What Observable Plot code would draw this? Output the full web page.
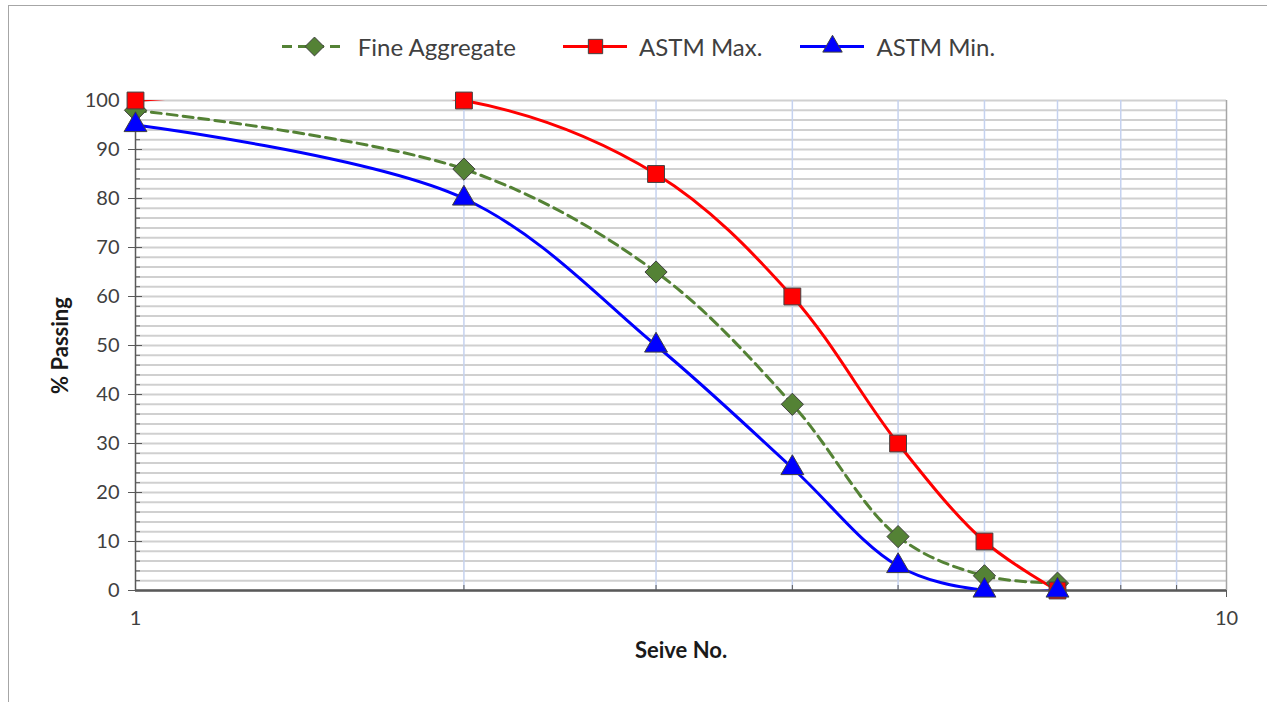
<!DOCTYPE html>
<html>
<head>
<meta charset="utf-8">
<script src="https://cdn.jsdelivr.net/npm/d3@7"></script>
<script src="https://cdn.jsdelivr.net/npm/@observablehq/plot@0.6"></script>
<style>
  html, body { margin: 0; padding: 0; background: #fff; }
  #wrap { position: relative; width: 1267px; height: 702px; overflow: hidden; font-family: Lato, "Open Sans", sans-serif; }
  #border { position: absolute; left: 8px; top: 5px; width: 1262px; height: 710px; border: 1.5px solid #a6a6a6; box-sizing: border-box; }
  #legend { position: absolute; top: 28px; left: 0; width: 1267px; height: 36px; display: flex; justify-content: center; align-items: center; font-size: 24px; color: #404040; padding-left: 10px; box-sizing: border-box; }
  .item { display: flex; align-items: center; margin: 0 19px; }
  .item:nth-child(2) { margin-left: 28px; }
  .item svg { margin-right: 12px; }
  #chart { position: absolute; left: 0; top: 70px; }
</style>
</head>
<body>
<div id="wrap">
  <div id="border"></div>
  <div id="legend"></div>
  <div id="chart"></div>
</div>
<script>
const sieves = [1, 2, 3, 4, 5, 6, 7];
const fineAggregate = [98, 86, 65, 38, 11, 3, 1.5];
const astmMax = [100, 100, 85, 60, 30, 10, 0];
const astmMin = [95, 80, 50, 25, 5, 0, 0];
const seriesNames = ["Fine Aggregate", "ASTM Max.", "ASTM Min."];
const yTicks = [0, 10, 20, 30, 40, 50, 60, 70, 80, 90, 100];
const yMinor = d3.range(0, 101, 2);
const xGrid = [2, 3, 4, 5, 6, 7, 8, 9];
const xLabels = [1, 10];

const toRows = (vals, name) => sieves.map((s, i) => ({sieve: s, pass: vals[i], series: name}));
const fine = toRows(fineAggregate, seriesNames[0]);
const mx = toRows(astmMax, seriesNames[1]);
const mn = toRows(astmMin, seriesNames[2]);

const styles = {
  "Fine Aggregate": {color: "#548235", symbol: "diamond2", r: 10, dash: "10,6"},
  "ASTM Max.": {color: "#ff0000", symbol: "square", r: 9.5, dash: null},
  "ASTM Min.": {color: "#0000ff", symbol: "triangle", r: 8.5, dash: null}
};

// Legend
const legend = document.getElementById("legend");
for (const name of seriesNames) {
  const s = styles[name];
  const item = document.createElement("div");
  item.className = "item";
  const sym = Plot.plot({
    width: 64, height: 26, margin: 0,
    x: {domain: [0, 1]}, y: {domain: [0, 1]}, axis: null,
    marks: [
      Plot.ruleY([0.5], {stroke: s.color, strokeWidth: 3, strokeDasharray: s.dash}),
      Plot.dot([[0.5, 0.5]], {x: d => d[0], y: d => d[1], symbol: s.symbol, r: s.r * 0.85, fill: s.color, stroke: "#404040", strokeWidth: 1})
    ]
  });
  item.appendChild(sym);
  const t = document.createElement("span");
  t.textContent = name;
  item.appendChild(t);
  legend.appendChild(item);
}

const lineOpts = (name) => ({
  x: "sieve", y: "pass", stroke: styles[name].color, strokeWidth: 3,
  strokeDasharray: styles[name].dash, curve: "catmull-rom", clip: true
});
const dotOpts = (name) => ({
  x: "sieve", y: "pass", symbol: () => styles[name].symbol, r: styles[name].r,
  fill: styles[name].color, stroke: "#404040", strokeWidth: 1
});

const chart = Plot.plot({
  width: 1267,
  height: 632,
  marginLeft: 135,
  marginRight: 41,
  marginTop: 30,
  marginBottom: 112,
  style: {fontFamily: "Lato, 'Open Sans', sans-serif", fontSize: "20px", color: "#404040", background: "transparent"},
  x: {type: "log", domain: [1, 10]},
  y: {domain: [0, 100]},
  symbol: {type: "identity"},
  marks: [
    Plot.ruleY(yMinor, {stroke: "#d0d0d0", strokeWidth: 2}),
    Plot.ruleX(xGrid, {stroke: "#c5d2ef", strokeWidth: 1.5}),
    Plot.ruleX([10], {stroke: "#a6a6a6", strokeWidth: 1.5}),
    Plot.axisY(yMinor, {tickSize: 5, dx: 5, tickFormat: () => "", stroke: "#595959", label: null}),
    Plot.axisY(yTicks, {tickSize: 14, dx: 7, tickPadding: 9, stroke: "#595959", fill: "#404040", fontSize: 20, label: null}),
    Plot.axisX(xGrid, {tickSize: 5, dy: -5, tickFormat: () => "", stroke: "#595959", label: null}),
    Plot.axisX([10], {tickSize: 7, dy: 0, tickFormat: () => "", stroke: "#595959", label: null}),
    Plot.axisX(xLabels, {tickSize: 0, tickPadding: 20, tickFormat: d => String(d), fill: "#404040", fontSize: 20, label: null}),
    Plot.ruleX([1], {stroke: "#595959", strokeWidth: 1.5}),
    Plot.ruleY([0], {stroke: "#595959", strokeWidth: 2.5}),
    Plot.line(fine, lineOpts("Fine Aggregate")),
    Plot.line(mx, lineOpts("ASTM Max.")),
    Plot.line(mn, lineOpts("ASTM Min.")),
    Plot.dot(fine, dotOpts("Fine Aggregate")),
    Plot.dot(mx, dotOpts("ASTM Max.")),
    Plot.dot(mn, dotOpts("ASTM Min.")),
    Plot.text(["Seive No."], {text: d => d, frameAnchor: "bottom", textAnchor: "middle", dy: 67, fontWeight: "bold", fontSize: 22, fill: "#1a1a1a"}),
    Plot.text(["% Passing"], {text: d => d, frameAnchor: "left", textAnchor: "middle", dx: -75, rotate: -90, fontWeight: "bold", fontSize: 22, fill: "#1a1a1a"})
  ]
});
document.getElementById("chart").appendChild(chart);
</script>
</body>
</html>
